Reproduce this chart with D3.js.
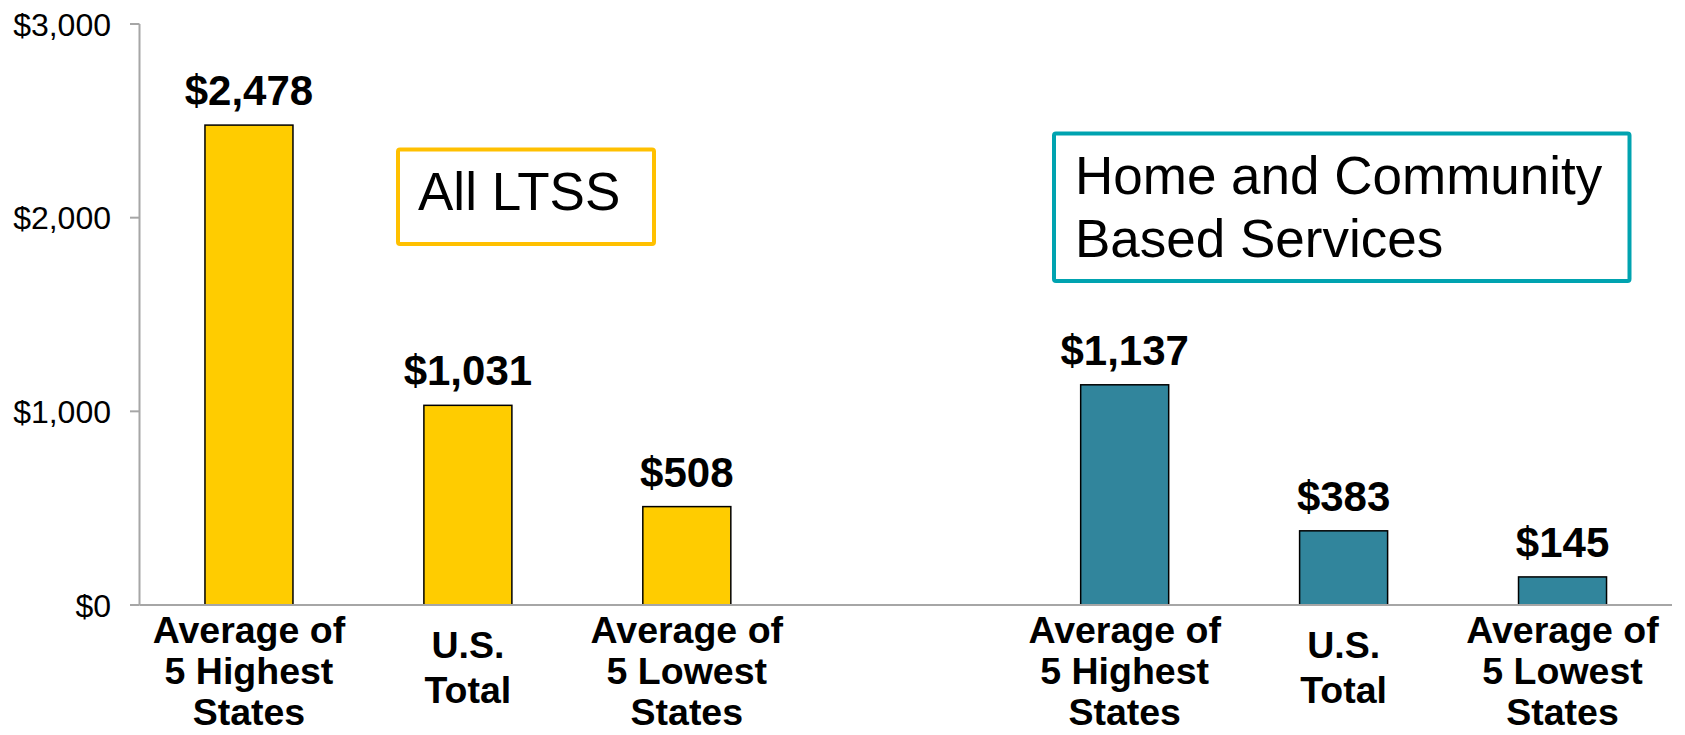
<!DOCTYPE html>
<html>
<head>
    <meta charset="utf-8">
    <style>
        body { margin: 0; background: #fff; }
        svg text { font-family: "Liberation Sans", Arial, sans-serif; fill: #000; }
        .tick-label { font-size: 32px; }
        .value { font-size: 42px; font-weight: 700; }
        .cat { font-size: 37.5px; font-weight: 700; }
        .box-text { font-size: 53px; }
    </style>
</head>
<body>
    <div id="container"></div>
    <script src="https://d3js.org/d3.v7.min.js"></script>
    <script>
        // categories (empty slot between the two groups)
        var categories = ["hi1", "us1", "lo1", "gap", "hi2", "us2", "lo2"];
        var catLabels = [
            ["Average of", "5 Highest", "States"],
            ["U.S.", "Total"],
            ["Average of", "5 Lowest", "States"],
            [],
            ["Average of", "5 Highest", "States"],
            ["U.S.", "Total"],
            ["Average of", "5 Lowest", "States"]
        ];
        var values = [2478, 1031, 508, null, 1137, 383, 145];
        var groups = ["ltss", "ltss", "ltss", null, "hcbs", "hcbs", "hcbs"];
        var yTicks = [0, 1000, 2000, 3000];

        var width = 1685, height = 735;
        var colors = { ltss: "#FFCC00", hcbs: "#31859C" };

        var svg = d3.select("#container").append("svg")
            .attr("width", width)
            .attr("height", height);

        var x = d3.scaleBand()
            .domain(categories)
            .range([139.5, 1672])
            .paddingInner(0.598)
            .paddingOuter(0.299);

        var y = d3.scaleLinear()
            .domain([0, 3000])
            .range([605, 24]);

        // y axis
        var yAxis = svg.append("g");
        yAxis.append("line")
            .attr("x1", 139.5).attr("x2", 139.5)
            .attr("y1", y(3000)).attr("y2", y(0))
            .attr("stroke", "#A6A6A6").attr("stroke-width", 2);
        yAxis.selectAll(".tk").data(yTicks).join("line")
            .attr("x1", 130).attr("x2", 139.5)
            .attr("y1", d => y(d)).attr("y2", d => y(d))
            .attr("stroke", "#A6A6A6").attr("stroke-width", 2);
        yAxis.selectAll(".tick-label").data(yTicks).join("text")
            .attr("class", "tick-label")
            .attr("x", 111)
            .attr("y", d => y(d))
            .attr("dy", "0.36em")
            .attr("text-anchor", "end")
            .text(d => d3.format("$,")(d));

        // bars
        var barData = categories.map((c, i) => ({ c: c, v: values[i], g: groups[i], lab: catLabels[i] }));
        svg.append("g").selectAll("rect")
            .data(barData.filter(d => d.v != null))
            .join("rect")
            .attr("x", d => x(d.c))
            .attr("y", d => y(d.v))
            .attr("width", x.bandwidth())
            .attr("height", d => y(0) - y(d.v))
            .attr("fill", d => colors[d.g])
            .attr("stroke", "#000")
            .attr("stroke-width", 1.5);

        // x axis line
        svg.append("line")
            .attr("x1", 139.5).attr("x2", 1672)
            .attr("y1", y(0)).attr("y2", y(0))
            .attr("stroke", "#A6A6A6").attr("stroke-width", 2);

        // value labels
        svg.append("g").selectAll("text")
            .data(barData.filter(d => d.v != null))
            .join("text")
            .attr("class", "value")
            .attr("x", d => x(d.c) + x.bandwidth() / 2)
            .attr("y", d => y(d.v) - 20)
            .attr("text-anchor", "middle")
            .text(d => d3.format("$,")(d.v));

        // category labels
        var cat = svg.append("g").selectAll("text")
            .data(barData.filter(d => d.lab.length))
            .join("text")
            .attr("class", "cat")
            .attr("text-anchor", "middle")
            .attr("x", d => x(d.c) + x.bandwidth() / 2)
            .attr("y", d => d.lab.length === 3 ? y(0) + 38 : y(0) + 53);
        cat.selectAll("tspan")
            .data(d => d.lab.map((t, i) => ({ t: t, i: i, n: d.lab.length, cx: x(d.c) + x.bandwidth() / 2 })))
            .join("tspan")
            .attr("x", d => d.cx)
            .attr("dy", d => d.i === 0 ? 0 : (d.n === 3 ? 41 : 45))
            .text(d => d.t);

        // annotation boxes
        svg.append("rect")
            .attr("x", 398).attr("y", 149.5)
            .attr("width", 256).attr("height", 94.5)
            .attr("fill", "none")
            .attr("stroke", "#FFC000").attr("stroke-width", 4)
            .attr("rx", 2);
        svg.append("text")
            .attr("class", "box-text")
            .attr("x", 418).attr("y", 210)
            .text("All LTSS");

        svg.append("rect")
            .attr("x", 1054).attr("y", 133.5)
            .attr("width", 575.5).attr("height", 147.5)
            .attr("fill", "none")
            .attr("stroke", "#00A3B0").attr("stroke-width", 4)
            .attr("rx", 2);
        var hc = svg.append("text")
            .attr("class", "box-text")
            .attr("x", 1075).attr("y", 194);
        hc.append("tspan").attr("x", 1075).text("Home and Community");
        hc.append("tspan").attr("x", 1075).attr("dy", 63).text("Based Services");
    </script>
</body>
</html>
